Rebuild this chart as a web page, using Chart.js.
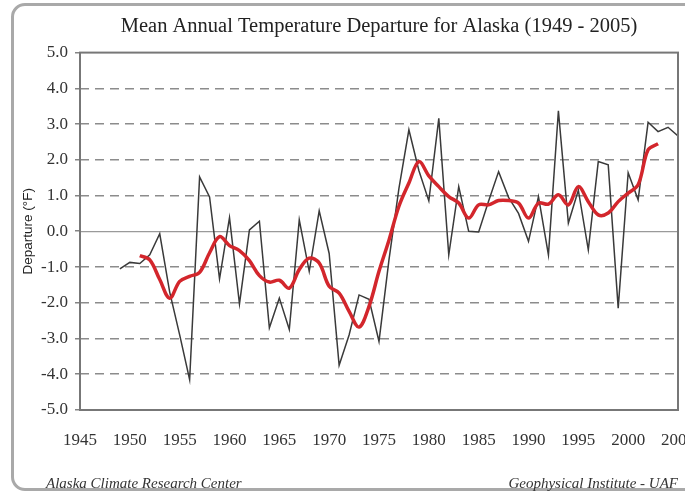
<!DOCTYPE html>
<html>
<head>
<meta charset="utf-8">
<title>Alaska temperature departure</title>
<script src="https://cdn.jsdelivr.net/npm/chart.js@4.4.1/dist/chart.umd.min.js"></script>
<style>
  html, body { margin: 0; padding: 0; background: #fff; overflow: hidden; }
  #wrap { position: relative; width: 685px; height: 492px; overflow: hidden; }
  #frame {
    position: absolute; left: 11px; top: 3px; width: 720px; height: 482px;
    border: 3px solid #a9a9a9; border-radius: 14px;
  }
  canvas { position: absolute; left: 0; top: 0; }
  .foot {
    position: absolute; top: 476px; line-height: 1; white-space: nowrap;
    font-family: "Liberation Serif", serif; font-style: italic; font-size: 15px; color: #333;
  }
</style>
</head>
<body>
<div id="wrap">
  <div id="frame"></div>
  <canvas id="chart" width="685" height="492"></canvas>
  <div class="foot" style="left:46px">Alaska Climate Research Center</div>
  <div class="foot" style="right:7px">Geophysical Institute - UAF</div>
</div>
<script>
// yearly departures from the long term mean (deg F)
const annualYears = [
  1949, 1950, 1951, 1952, 1953, 1954, 1955, 1956, 1957, 1958,
  1959, 1960, 1961, 1962, 1963, 1964, 1965, 1966, 1967, 1968,
  1969, 1970, 1971, 1972, 1973, 1974, 1975, 1976, 1977, 1978,
  1979, 1980, 1981, 1982, 1983, 1984, 1985, 1986, 1987, 1988,
  1989, 1990, 1991, 1992, 1993, 1994, 1995, 1996, 1997, 1998,
  1999, 2000, 2001, 2002, 2003, 2004, 2005
];
const annualDeparture = [
  -1.05, -0.87, -0.90, -0.66, -0.07, -1.70, -2.90, -4.15, 1.52, 0.96,
  -1.33, 0.38, -2.03, 0.04, 0.28, -2.70, -1.87, -2.75, 0.32, -1.12,
  0.57, -0.62, -3.75, -2.90, -1.78, -1.90, -3.08, -0.80, 1.20, 2.84,
  1.70, 0.85, 3.16, -0.66, 1.25, 0.00, -0.02, 0.85, 1.67, 0.95,
  0.50, -0.28, 0.97, -0.66, 3.37, 0.23, 1.15, -0.52, 1.95, 1.86,
  -2.15, 1.64, 0.88, 3.05, 2.79, 2.91, 2.67
];

// 5-year running mean
const meanYears = [
  1951, 1952, 1953, 1954, 1955, 1956, 1957, 1958, 1959, 1960,
  1961, 1962, 1963, 1964, 1965, 1966, 1967, 1968, 1969, 1970,
  1971, 1972, 1973, 1974, 1975, 1976, 1977, 1978, 1979, 1980,
  1981, 1982, 1983, 1984, 1985, 1986, 1987, 1988, 1989, 1990,
  1991, 1992, 1993, 1994, 1995, 1996, 1997, 1998, 1999, 2000,
  2001, 2002, 2003
];
const runningMean = [
  -0.68, -0.80, -1.35, -1.87, -1.40, -1.26, -1.15, -0.60, -0.15, -0.40,
  -0.54, -0.82, -1.24, -1.42, -1.37, -1.59, -1.07, -0.75, -0.89, -1.54,
  -1.73, -2.24, -2.68, -2.10, -1.12, -0.25, 0.70, 1.35, 1.95, 1.55,
  1.25, 0.97, 0.79, 0.37, 0.74, 0.74, 0.86, 0.86, 0.79, 0.37,
  0.79, 0.76, 1.02, 0.74, 1.25, 0.83, 0.46, 0.51, 0.83, 1.07,
  1.30, 2.28, 2.45
];

const yearTicks = [1945, 1950, 1955, 1960, 1965, 1970, 1975, 1980, 1985, 1990, 1995, 2000, 2005];
const departureTicks = [5, 4, 3, 2, 1, 0, -1, -2, -3, -4, -5];

const serif = "'Liberation Serif', 'Times New Roman', serif";

// grey box round the plot area
const plotFrame = {
  id: 'plotFrame',
  afterDatasetsDraw(chart) {
    const { ctx, chartArea: a } = chart;
    ctx.save();
    ctx.strokeStyle = '#777';
    ctx.lineWidth = 2;
    ctx.strokeRect(a.left, a.top, a.right - a.left, a.bottom - a.top);
    ctx.restore();
  }
};

new Chart(document.getElementById('chart'), {
  type: 'line',
  data: {
    datasets: [
      {
        label: 'Annual',
        data: annualYears.map((yr, i) => ({ x: yr, y: annualDeparture[i] })),
        borderColor: '#3a3a3a',
        borderWidth: 1.5,
        pointRadius: 0,
        tension: 0,
        order: 2
      },
      {
        label: '5-yr mean',
        data: meanYears.map((yr, i) => ({ x: yr, y: runningMean[i] })),
        borderColor: '#d3262c',
        borderWidth: 3.5,
        pointRadius: 0,
        tension: 0.35,
        order: 1
      }
    ]
  },
  options: {
    responsive: false,
    animation: false,
    devicePixelRatio: 1,
    layout: { padding: { left: 14, right: 7, top: 0, bottom: 0 } },
    plugins: {
      legend: { display: false },
      tooltip: { enabled: false },
      title: {
        display: true,
        fullSize: false,
        text: 'Mean Annual Temperature Departure for Alaska (1949 - 2005)',
        color: '#222',
        font: { family: serif, size: 20.5, weight: 'normal' },
        padding: { top: 14, bottom: 14 }
      }
    },
    scales: {
      x: {
        type: 'linear',
        min: 1945,
        max: 2005,
        afterBuildTicks: (scale) => { scale.ticks = yearTicks.map(v => ({ value: v })); },
        afterFit: (scale) => { scale.height = 82; scale.paddingLeft = 0; scale.paddingRight = 0; },
        grid: { display: false, drawTicks: false },
        border: { display: false },
        ticks: {
          autoSkip: false,
          maxRotation: 0,
          padding: 20,
          color: '#333',
          font: { family: serif, size: 17 },
          callback: (v) => String(v)
        }
      },
      y: {
        min: -5,
        max: 5,
        afterBuildTicks: (scale) => { scale.ticks = departureTicks.map(v => ({ value: v })); },
        afterFit: (scale) => { scale.width = 66; scale.paddingTop = 0; scale.paddingBottom = 0; },
        border: { display: false, dash: [9, 6] },
        grid: {
          color: (ctx) => (ctx.tick && Math.abs(ctx.tick.value) % 5 === 0) ? 'rgba(0,0,0,0)' : '#8c8c8c',
          lineWidth: 1.6,
          drawTicks: true,
          tickLength: 5,
          tickColor: '#666',
          tickWidth: 1.2
        },
        ticks: {
          padding: 7,
          color: '#333',
          font: { family: serif, size: 17 },
          callback: (v) => v.toFixed(1)
        },
        title: {
          display: true,
          text: 'Departure (°F)',
          color: '#222',
          font: { family: "'Liberation Sans', Arial, sans-serif", size: 13.5 },
          padding: { top: 6, bottom: 0 }
        }
      },
      // solid reference line at zero departure
      yZero: {
        position: 'left',
        min: -5,
        max: 5,
        afterBuildTicks: (scale) => { scale.ticks = [{ value: 0 }]; },
        afterFit: (scale) => { scale.width = 0; scale.paddingTop = 0; scale.paddingBottom = 0; },
        border: { display: false },
        grid: { color: '#9a9a9a', lineWidth: 1.2, drawTicks: false },
        ticks: { display: false }
      }
    }
  },
  plugins: [plotFrame]
});
</script>
</body>
</html>
